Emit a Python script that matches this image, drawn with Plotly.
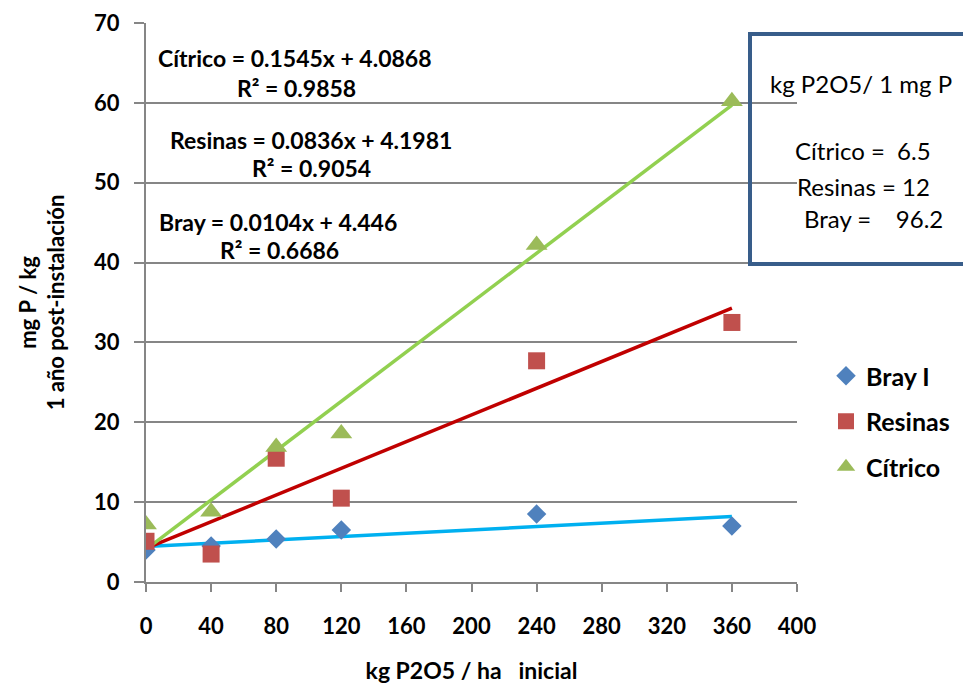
import plotly.graph_objects as go

# Dose of P2O5 applied at establishment (kg/ha)
dosis = [0, 40, 80, 120, 240, 360]

# Extractable P one year after establishment (mg P / kg)
bray = [4.0, 4.5, 5.4, 6.5, 8.5, 7.0]
resinas = [5.1, 3.5, 15.5, 10.5, 27.7, 32.5]
citrico = [7.2, 8.8, 16.9, 18.6, 42.2, 60.2]

# Linear fits (slope, intercept, R²)
ajustes = {
    "Bray": (0.0104, 4.446, 0.6686),
    "Resinas": (0.0836, 4.1981, 0.9054),
    "Cítrico": (0.1545, 4.0868, 0.9858),
}

# kg P2O5 needed to raise 1 mg P
kg_por_mg = {"Cítrico": "6.5", "Resinas": "12", "Bray": "96.2"}

x_ticks = list(range(0, 401, 40))
y_ticks = list(range(0, 71, 10))

FONT = "Lato, 'Open Sans', sans-serif"
NB = "\u00a0"

fig = go.Figure()

# Fitted lines over the measured dose range
x_fit = [min(dosis), max(dosis)]
for nombre, color in [("Bray", "#00B0F0"), ("Resinas", "#C00000"), ("Cítrico", "#92D050")]:
    m, b, _ = ajustes[nombre]
    fig.add_trace(go.Scatter(
        x=x_fit, y=[m * xv + b for xv in x_fit], mode="lines",
        line=dict(color=color, width=3.5), showlegend=False, hoverinfo="skip",
    ))

series = [
    ("Bray I", bray, "diamond", "#4F81BD", 15),
    ("Resinas", resinas, "square", "#C0504D", 17),
    ("Cítrico", citrico, "triangle-up", "#9BBB59", 19),
]
for nombre, vals, simbolo, color, tam in series:
    fig.add_trace(go.Scatter(
        x=dosis, y=vals, mode="markers", name=nombre, legendgroup=nombre,
        marker=dict(symbol=simbolo, color=color, size=tam, line=dict(width=0)),
    ))

# Plot-area edges in pixels, used to place the notes in paper coordinates
L, R, T, B = 146, 797, 23, 582
def px(xp):
    return (xp - L) / (R - L)
def py(yp):
    return (B - yp) / (B - T)

def nota(texto, cx, cy, font):
    fig.add_annotation(text=texto, x=px(cx), y=py(cy), xref="paper", yref="paper",
                       showarrow=False, font=font, xanchor="center", yanchor="middle")

# Equation labels
eq_font = dict(family=FONT, size=23, color="black", weight="bold")
def ecuacion(nombre, m, b):
    return f"{nombre} = {m}x + {b}"

nota(ecuacion("Cítrico", *ajustes["Cítrico"][:2]), 295, 58, eq_font)
nota(f"R² = {ajustes['Cítrico'][2]}", 296, 88, eq_font)
nota(ecuacion("Resinas", *ajustes["Resinas"][:2]), 311, 140, eq_font)
nota(f"R² = {ajustes['Resinas'][2]}", 311, 168, eq_font)
nota(ecuacion("Bray", *ajustes["Bray"][:2]), 278, 222, eq_font)
nota(f"R² = {ajustes['Bray'][2]}", 279, 250, eq_font)

# Boxed note
fig.add_shape(type="rect", xref="paper", yref="paper",
              x0=px(750), x1=px(985), y0=py(264), y1=py(34),
              line=dict(color="#385D8A", width=4), fillcolor="rgba(0,0,0,0)", layer="above")
box_font = dict(family=FONT, size=24, color="black")
nota("kg P2O5/ 1 mg P", 861, 83, box_font)
nota(f"Cítrico ={NB}{NB}{kg_por_mg['Cítrico']}", 863, 150, box_font)
nota(f"Resinas = {kg_por_mg['Resinas']}", 863, 186, box_font)
nota(f"Bray ={NB}{NB}{NB}{NB}{kg_por_mg['Bray']}", 874, 219, box_font)

axis_common = dict(
    showline=True, linecolor="#868686", linewidth=2,
    ticks="outside", tickcolor="#868686", tickwidth=2,
    tickfont=dict(family=FONT, size=22, color="black", weight="bold"),
    zeroline=False,
)

fig.update_xaxes(range=[0, 400], tickvals=x_ticks, showgrid=False, ticklen=8,
                 ticklabelstandoff=16,
                 title=dict(text=f"kg P2O5 / ha{NB}{NB}{NB}inicial", standoff=24,
                            font=dict(family=FONT, size=23, color="black", weight="bold")),
                 **axis_common)
fig.update_yaxes(range=[0, 70], tickvals=y_ticks, showgrid=True, ticklen=10,
                 ticklabelstandoff=10,
                 gridcolor="#868686", gridwidth=2,
                 title=dict(text="mg P / kg<br>1 año post-instalación", standoff=23,
                            font=dict(family=FONT, size=22, color="black", weight="bold")),
                 **axis_common)

fig.update_layout(
    width=963, height=691,
    margin=dict(l=L, r=963 - R, t=T, b=691 - B, autoexpand=False),
    plot_bgcolor="white", paper_bgcolor="white",
    legend=dict(x=px(826), y=py(353), xanchor="left", yanchor="top",
                font=dict(family=FONT, size=25, color="black", weight="bold"),
                tracegroupgap=10, bgcolor="rgba(0,0,0,0)"),
)

fig.write_html("out.html")
